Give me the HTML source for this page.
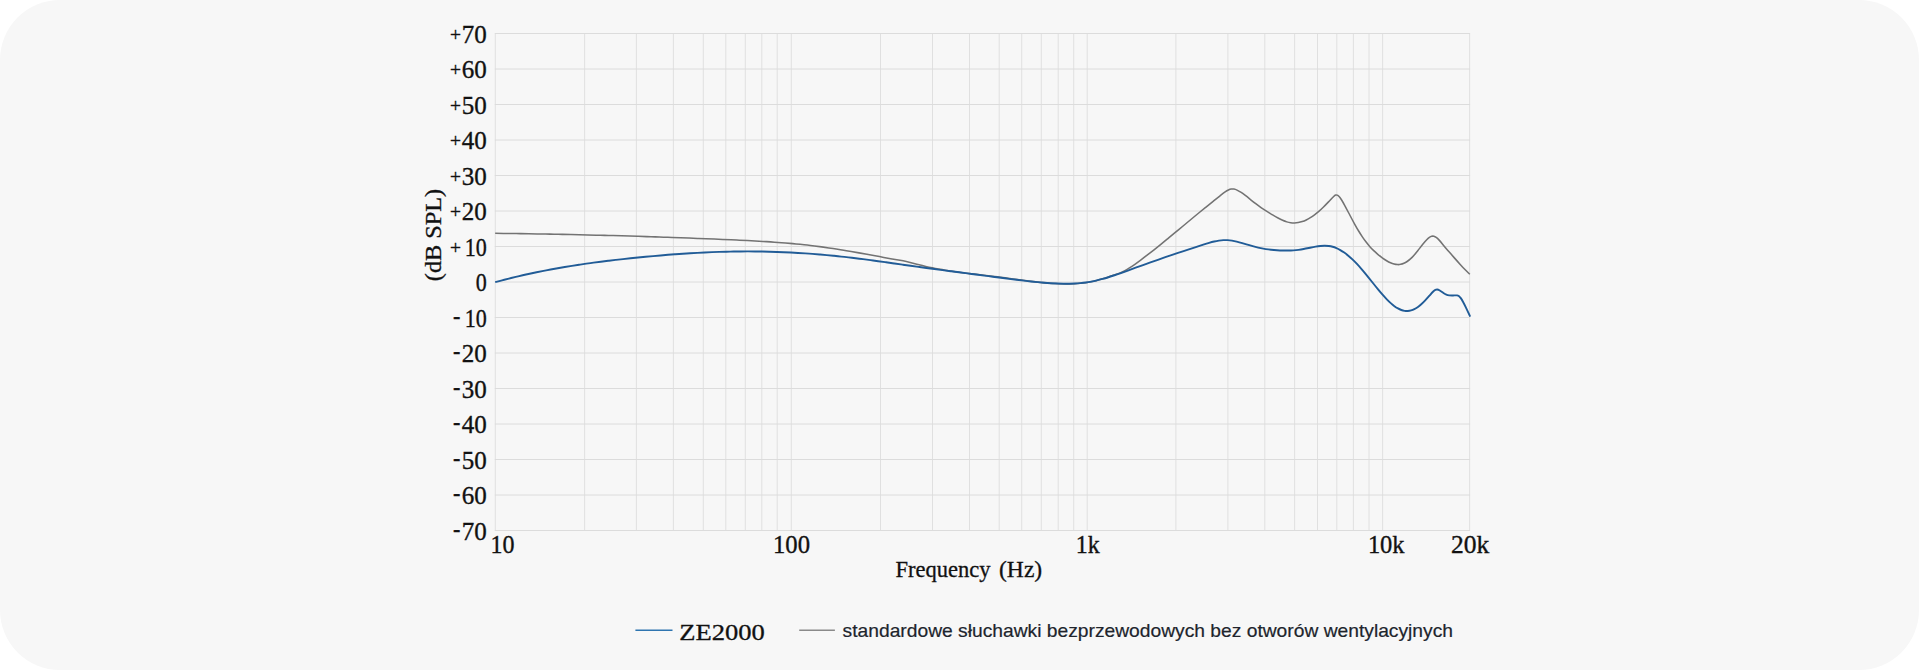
<!DOCTYPE html>
<html lang="pl"><head><meta charset="utf-8"><title>ZE2000</title>
<style>
html,body{margin:0;padding:0;background:#fff;}
body{width:1920px;height:670px;overflow:hidden;position:relative;}
.panel{position:absolute;left:0;top:0;width:1919px;height:670px;background:#f7f7f7;border-radius:60px;}
svg{position:absolute;left:0;top:0;display:block;}
</style></head><body>
<div class="panel"></div>
<svg width="1920" height="670" viewBox="0 0 1920 670">
<path d="M495.3 33.5V530.5M584.6 33.5V530.5M636.4 33.5V530.5M673.4 33.5V530.5M703.3 33.5V530.5M725.8 33.5V530.5M745.3 33.5V530.5M761.8 33.5V530.5M777.2 33.5V530.5M791.3 33.5V530.5M880.5 33.5V530.5M932.5 33.5V530.5M969.5 33.5V530.5M999.2 33.5V530.5M1021.7 33.5V530.5M1041.3 33.5V530.5M1058.2 33.5V530.5M1073.7 33.5V530.5M1087.2 33.5V530.5M1175.9 33.5V530.5M1227.9 33.5V530.5M1264.8 33.5V530.5M1294.6 33.5V530.5M1317.5 33.5V530.5M1336.8 33.5V530.5M1353.4 33.5V530.5M1369.0 33.5V530.5M1382.6 33.5V530.5M1469.6 33.5V530.5" stroke="#e0e0e0" stroke-width="1" fill="none"/>
<path d="M494.8 33.5H1470.1M494.8 69.0H1470.1M494.8 104.5H1470.1M494.8 140.0H1470.1M494.8 175.5H1470.1M494.8 211.0H1470.1M494.8 246.5H1470.1M494.8 282.0H1470.1M494.8 317.5H1470.1M494.8 353.0H1470.1M494.8 388.5H1470.1M494.8 424.0H1470.1M494.8 459.5H1470.1M494.8 495.0H1470.1M494.8 530.5H1470.1" stroke="#dcdcdc" stroke-width="1" fill="none"/>
<path d="M495.20 233.33C498.00 233.36 500.80 233.39 503.60 233.43C506.40 233.46 509.21 233.49 512.01 233.53C514.81 233.57 517.61 233.60 520.41 233.64C523.22 233.68 526.02 233.72 528.82 233.77C531.63 233.81 534.43 233.86 537.23 233.90C540.04 233.95 542.84 234.00 545.65 234.05C548.45 234.10 551.26 234.15 554.06 234.21C556.87 234.26 559.67 234.32 562.48 234.37C565.28 234.43 568.09 234.49 570.90 234.55C573.70 234.61 576.51 234.67 579.32 234.74C582.13 234.80 584.94 234.87 587.74 234.94C590.55 235.00 593.36 235.07 596.17 235.15C598.98 235.22 601.79 235.29 604.60 235.36C607.41 235.44 610.22 235.51 613.03 235.59C615.84 235.67 618.65 235.75 621.46 235.83C624.27 235.91 627.08 236.00 629.90 236.08C632.71 236.16 635.52 236.25 638.33 236.34C641.15 236.43 643.96 236.52 646.77 236.61C649.59 236.70 652.40 236.79 655.22 236.88C658.03 236.98 660.85 237.08 663.66 237.17C666.48 237.27 669.29 237.37 672.11 237.47C674.92 237.57 677.74 237.67 680.56 237.78C683.37 237.88 686.19 237.99 689.01 238.09C691.82 238.20 694.64 238.31 697.46 238.42C700.28 238.53 703.10 238.64 705.92 238.76C708.74 238.87 711.56 238.98 714.37 239.10C717.20 239.22 720.02 239.33 722.84 239.45C725.64 239.57 728.44 239.69 731.24 239.82C733.96 239.93 736.68 240.06 739.40 240.18C742.06 240.30 744.72 240.43 747.38 240.56C749.99 240.69 752.60 240.83 755.22 240.97C757.79 241.11 760.36 241.25 762.93 241.41C765.47 241.56 768.00 241.72 770.54 241.88C773.04 242.05 775.55 242.23 778.05 242.41C780.53 242.59 783.00 242.79 785.48 242.99C787.93 243.19 790.38 243.40 792.83 243.63C795.26 243.85 797.68 244.08 800.11 244.33C802.51 244.58 804.92 244.83 807.32 245.10C809.71 245.37 812.09 245.66 814.48 245.95C816.86 246.25 819.24 246.56 821.62 246.89C824.03 247.22 826.44 247.56 828.85 247.92C831.29 248.28 833.74 248.65 836.18 249.03C838.66 249.42 841.15 249.83 843.63 250.24C846.16 250.65 848.68 251.08 851.21 251.52C853.79 251.96 856.37 252.41 858.95 252.87C861.59 253.34 864.24 253.82 866.89 254.30C869.62 254.80 872.36 255.30 875.10 255.80C877.99 256.33 880.88 256.87 883.77 257.40C886.54 257.91 889.32 258.42 892.10 258.93C894.72 259.41 897.34 259.87 899.96 260.36C902.07 260.74 904.18 261.15 906.29 261.59C908.21 262.00 910.14 262.45 912.06 262.94C914.40 263.54 916.73 264.16 919.07 264.75C921.31 265.32 923.54 265.86 925.78 266.38C927.94 266.89 930.11 267.37 932.28 267.83C934.43 268.28 936.59 268.70 938.75 269.10C940.95 269.51 943.15 269.90 945.36 270.26C947.62 270.63 949.88 270.98 952.14 271.31C954.47 271.66 956.80 271.98 959.13 272.29C961.54 272.61 963.96 272.91 966.38 273.21C968.92 273.52 971.46 273.81 974.00 274.11C976.77 274.42 979.55 274.74 982.32 275.05C984.98 275.35 987.63 275.66 990.29 275.97C992.77 276.26 995.26 276.56 997.74 276.87C1000.20 277.17 1002.65 277.50 1005.11 277.83C1007.77 278.18 1010.43 278.55 1013.08 278.92C1015.81 279.30 1018.53 279.67 1021.26 280.04C1023.74 280.38 1026.22 280.71 1028.70 281.03C1031.06 281.33 1033.42 281.62 1035.78 281.89C1038.04 282.15 1040.31 282.39 1042.58 282.61C1044.78 282.82 1046.98 283.02 1049.18 283.19C1051.33 283.35 1053.47 283.49 1055.61 283.60C1057.71 283.70 1059.80 283.78 1061.90 283.83C1063.95 283.88 1066.00 283.90 1068.05 283.88C1070.04 283.86 1072.03 283.81 1074.02 283.72C1075.95 283.63 1077.87 283.51 1079.80 283.34C1081.67 283.17 1083.54 282.97 1085.41 282.71C1087.23 282.46 1089.06 282.17 1090.88 281.82C1092.66 281.48 1094.45 281.09 1096.23 280.64C1098.08 280.18 1099.93 279.66 1101.78 279.10C1103.80 278.49 1105.82 277.84 1107.84 277.16C1110.26 276.35 1112.67 275.50 1115.09 274.66C1116.96 274.00 1118.83 273.38 1120.70 272.62C1122.11 272.05 1123.51 271.39 1124.91 270.64C1126.43 269.83 1127.94 268.93 1129.45 267.97C1131.15 266.88 1132.85 265.72 1134.55 264.51C1136.59 263.06 1138.64 261.56 1140.68 260.04C1142.82 258.44 1144.97 256.82 1147.11 255.17C1149.31 253.48 1151.51 251.76 1153.72 250.02C1155.98 248.23 1158.25 246.42 1160.52 244.58C1162.87 242.68 1165.23 240.76 1167.58 238.83C1170.06 236.80 1172.53 234.76 1175.00 232.71C1177.69 230.47 1180.39 228.23 1183.08 225.99C1185.78 223.74 1188.47 221.49 1191.17 219.26C1193.69 217.17 1196.20 215.09 1198.71 213.02C1201.15 211.02 1203.58 209.03 1206.02 207.05C1208.39 205.12 1210.76 203.21 1213.13 201.31C1215.44 199.46 1217.76 197.62 1220.08 195.80C1221.76 194.48 1223.45 193.12 1225.13 191.94C1226.23 191.18 1227.33 190.49 1228.42 189.98C1229.36 189.53 1230.30 189.21 1231.24 189.06C1232.14 188.91 1233.03 188.94 1233.92 189.11C1234.96 189.30 1235.99 189.67 1237.02 190.14C1238.27 190.71 1239.51 191.41 1240.75 192.20C1242.17 193.09 1243.58 194.11 1245.00 195.19C1246.92 196.65 1248.84 198.23 1250.76 199.79C1252.54 201.24 1254.32 202.65 1256.10 203.98C1257.87 205.31 1259.63 206.58 1261.39 207.80C1263.22 209.06 1265.05 210.27 1266.88 211.43C1268.79 212.64 1270.70 213.81 1272.61 214.94C1274.43 216.02 1276.25 217.07 1278.07 218.05C1279.60 218.87 1281.14 219.64 1282.67 220.31C1284.05 220.92 1285.44 221.45 1286.82 221.87C1288.11 222.27 1289.40 222.57 1290.69 222.76C1291.95 222.95 1293.21 223.03 1294.47 223.00C1295.75 222.98 1297.04 222.84 1298.32 222.61C1299.63 222.38 1300.94 222.03 1302.24 221.60C1303.58 221.15 1304.91 220.60 1306.25 219.96C1307.61 219.30 1308.97 218.55 1310.34 217.70C1311.73 216.84 1313.13 215.88 1314.52 214.83C1315.96 213.76 1317.39 212.60 1318.82 211.35C1320.30 210.06 1321.79 208.68 1323.27 207.22C1325.01 205.51 1326.75 203.71 1328.50 201.88C1330.23 200.06 1331.96 198.10 1333.69 196.46C1334.34 195.85 1334.99 195.34 1335.64 195.10C1336.18 194.90 1336.72 194.90 1337.27 195.12C1337.87 195.36 1338.47 195.84 1339.08 196.49C1339.82 197.29 1340.56 198.34 1341.30 199.51C1342.37 201.20 1343.45 203.10 1344.52 205.07C1346.36 208.45 1348.20 212.00 1350.04 215.49C1351.61 218.49 1353.19 221.45 1354.76 224.30C1356.05 226.62 1357.34 228.87 1358.63 231.00C1359.87 233.05 1361.12 234.99 1362.36 236.82C1363.61 238.67 1364.86 240.40 1366.11 242.04C1367.37 243.68 1368.63 245.21 1369.89 246.64C1371.17 248.09 1372.45 249.43 1373.73 250.67C1375.09 252.00 1376.45 253.21 1377.81 254.34C1379.30 255.58 1380.78 256.72 1382.27 257.79C1383.73 258.84 1385.18 259.84 1386.63 260.72C1387.93 261.50 1389.22 262.21 1390.52 262.79C1391.71 263.33 1392.91 263.77 1394.10 264.08C1395.22 264.37 1396.35 264.56 1397.47 264.60C1398.54 264.65 1399.61 264.57 1400.68 264.36C1401.75 264.15 1402.83 263.81 1403.90 263.33C1404.98 262.86 1406.07 262.25 1407.15 261.51C1408.25 260.77 1409.35 259.90 1410.45 258.90C1411.58 257.88 1412.70 256.72 1413.83 255.45C1415.20 253.90 1416.57 252.20 1417.95 250.46C1419.69 248.24 1421.44 245.95 1423.19 243.81C1424.37 242.36 1425.55 240.97 1426.73 239.75C1427.62 238.82 1428.52 238.01 1429.41 237.39C1430.18 236.86 1430.94 236.47 1431.71 236.28C1432.43 236.10 1433.14 236.10 1433.86 236.29C1434.64 236.49 1435.42 236.89 1436.20 237.44C1437.11 238.08 1438.01 238.91 1438.91 239.86C1440.20 241.22 1441.49 242.82 1442.78 244.42C1444.32 246.33 1445.86 248.17 1447.40 249.92C1449.72 252.57 1452.04 255.22 1454.36 257.87C1456.31 260.09 1458.26 262.31 1460.21 264.45C1461.88 266.30 1463.55 268.09 1465.22 269.81C1466.75 271.37 1468.27 272.88 1469.80 274.29" stroke="#737373" stroke-width="1.55" fill="none" stroke-linejoin="round"/>
<path d="M495.20 282.18C497.48 281.55 499.75 280.93 502.03 280.33C504.31 279.73 506.60 279.14 508.88 278.57C511.17 277.99 513.47 277.42 515.76 276.87C518.06 276.32 520.37 275.78 522.67 275.26C524.98 274.73 527.29 274.22 529.61 273.71C531.93 273.21 534.25 272.72 536.57 272.24C538.91 271.76 541.24 271.29 543.57 270.84C545.91 270.38 548.26 269.93 550.60 269.50C552.96 269.06 555.31 268.63 557.66 268.22C560.03 267.80 562.40 267.39 564.76 267.00C567.14 266.60 569.52 266.22 571.90 265.84C574.29 265.46 576.68 265.09 579.07 264.73C581.47 264.37 583.87 264.02 586.28 263.68C588.70 263.34 591.11 263.00 593.53 262.68C595.96 262.35 598.39 262.03 600.82 261.72C603.27 261.41 605.72 261.10 608.17 260.81C610.63 260.51 613.09 260.22 615.56 259.93C618.04 259.65 620.52 259.37 623.00 259.10C625.49 258.82 627.99 258.56 630.49 258.29C633.01 258.03 635.53 257.77 638.05 257.52C640.56 257.27 643.07 257.02 645.59 256.78C648.09 256.55 650.59 256.31 653.10 256.09C655.59 255.86 658.08 255.64 660.57 255.43C663.05 255.22 665.53 255.02 668.01 254.82C670.47 254.62 672.94 254.43 675.41 254.25C677.87 254.07 680.33 253.90 682.79 253.73C685.24 253.57 687.68 253.41 690.13 253.26C692.57 253.11 695.01 252.97 697.45 252.84C699.88 252.71 702.31 252.58 704.74 252.47C707.16 252.35 709.58 252.25 712.00 252.15C714.41 252.05 716.82 251.97 719.23 251.89C721.64 251.81 724.04 251.74 726.44 251.68C728.84 251.62 731.23 251.57 733.63 251.54C736.01 251.50 738.40 251.47 740.79 251.45C743.17 251.43 745.55 251.42 747.93 251.42C750.31 251.42 752.69 251.43 755.07 251.46C757.45 251.48 759.83 251.51 762.21 251.55C764.60 251.59 766.98 251.65 769.36 251.71C771.75 251.77 774.14 251.85 776.52 251.93C778.91 252.01 781.30 252.11 783.68 252.21C786.07 252.31 788.46 252.42 790.85 252.55C793.24 252.67 795.63 252.80 798.03 252.95C800.42 253.09 802.81 253.24 805.21 253.41C807.60 253.57 810.00 253.74 812.39 253.92C814.79 254.10 817.19 254.30 819.59 254.50C821.99 254.70 824.39 254.91 826.78 255.13C829.19 255.35 831.59 255.58 833.99 255.82C836.39 256.06 838.80 256.31 841.20 256.57C843.61 256.83 846.01 257.10 848.42 257.38C850.84 257.66 853.25 257.95 855.67 258.24C858.12 258.55 860.58 258.86 863.03 259.17C865.53 259.50 868.02 259.83 870.52 260.16C873.07 260.51 875.62 260.85 878.17 261.21C880.78 261.57 883.40 261.94 886.02 262.30C888.73 262.69 891.45 263.07 894.17 263.46C896.97 263.86 899.77 264.26 902.57 264.65C905.23 265.03 907.89 265.41 910.55 265.78C913.18 266.15 915.81 266.51 918.44 266.87C921.09 267.24 923.74 267.60 926.40 267.96C929.07 268.32 931.74 268.68 934.41 269.04C937.11 269.40 939.81 269.76 942.51 270.12C945.23 270.48 947.96 270.84 950.69 271.20C953.45 271.56 956.21 271.92 958.97 272.28C961.78 272.65 964.59 273.02 967.40 273.38C970.27 273.76 973.15 274.13 976.02 274.51C978.83 274.87 981.64 275.24 984.45 275.61C987.21 275.97 989.97 276.33 992.73 276.69C995.47 277.05 998.21 277.41 1000.95 277.78C1003.64 278.13 1006.32 278.49 1009.01 278.84C1011.51 279.17 1014.01 279.49 1016.51 279.80C1018.92 280.11 1021.32 280.40 1023.72 280.68C1026.05 280.96 1028.37 281.22 1030.70 281.47C1032.97 281.72 1035.24 281.95 1037.51 282.16C1039.73 282.37 1041.95 282.56 1044.17 282.74C1046.35 282.91 1048.53 283.06 1050.71 283.20C1052.85 283.33 1054.99 283.44 1057.13 283.53C1059.20 283.62 1061.27 283.68 1063.34 283.72C1065.32 283.75 1067.29 283.76 1069.27 283.73C1071.16 283.71 1073.06 283.65 1074.96 283.55C1076.80 283.46 1078.64 283.33 1080.48 283.15C1082.26 282.98 1084.05 282.77 1085.84 282.51C1087.64 282.25 1089.44 281.94 1091.24 281.60C1093.09 281.24 1094.93 280.84 1096.78 280.41C1098.68 279.96 1100.57 279.47 1102.47 278.95C1104.44 278.41 1106.40 277.84 1108.36 277.24C1110.40 276.61 1112.44 275.95 1114.49 275.27C1116.63 274.56 1118.78 273.81 1120.93 273.06C1123.24 272.24 1125.55 271.41 1127.86 270.57C1130.46 269.62 1133.06 268.66 1135.66 267.71C1138.12 266.81 1140.57 265.92 1143.02 265.04C1145.49 264.15 1147.95 263.27 1150.41 262.40C1152.89 261.53 1155.36 260.66 1157.84 259.80C1160.34 258.93 1162.83 258.07 1165.32 257.21C1167.83 256.35 1170.34 255.50 1172.85 254.65C1175.38 253.79 1177.91 252.95 1180.44 252.10C1182.99 251.25 1185.54 250.41 1188.09 249.56C1190.66 248.72 1193.23 247.87 1195.81 247.03C1198.30 246.22 1200.79 245.41 1203.28 244.61C1205.22 243.99 1207.16 243.38 1209.10 242.83C1210.80 242.34 1212.50 241.89 1214.21 241.51C1215.78 241.15 1217.35 240.85 1218.92 240.61C1220.40 240.40 1221.88 240.24 1223.36 240.17C1224.77 240.09 1226.18 240.09 1227.59 240.17C1229.05 240.26 1230.50 240.43 1231.95 240.66C1233.54 240.92 1235.13 241.25 1236.72 241.63C1238.56 242.07 1240.39 242.57 1242.23 243.10C1244.58 243.77 1246.94 244.47 1249.29 245.16C1251.32 245.75 1253.34 246.33 1255.37 246.86C1257.16 247.33 1258.94 247.77 1260.73 248.16C1262.41 248.52 1264.08 248.83 1265.76 249.08C1267.54 249.35 1269.32 249.56 1271.10 249.74C1273.06 249.94 1275.02 250.10 1276.98 250.23C1278.89 250.36 1280.79 250.46 1282.69 250.51C1284.51 250.57 1286.33 250.59 1288.15 250.56C1289.91 250.53 1291.67 250.46 1293.42 250.34C1295.12 250.22 1296.83 250.06 1298.53 249.84C1300.23 249.62 1301.92 249.35 1303.62 249.02C1305.75 248.62 1307.89 248.15 1310.02 247.70C1311.91 247.30 1313.80 246.91 1315.68 246.59C1317.27 246.31 1318.86 246.09 1320.45 245.93C1321.89 245.80 1323.33 245.72 1324.77 245.73C1326.12 245.74 1327.46 245.83 1328.81 246.00C1330.08 246.17 1331.36 246.43 1332.63 246.78C1333.89 247.13 1335.15 247.58 1336.42 248.12C1337.70 248.67 1338.99 249.32 1340.28 250.05C1341.59 250.80 1342.91 251.64 1344.23 252.57C1345.58 253.52 1346.92 254.55 1348.27 255.67C1349.66 256.82 1351.04 258.06 1352.43 259.37C1353.85 260.72 1355.28 262.15 1356.70 263.65C1358.18 265.21 1359.65 266.84 1361.13 268.54C1362.74 270.40 1364.35 272.33 1365.96 274.31C1368.02 276.84 1370.08 279.43 1372.14 282.02C1374.05 284.42 1375.95 286.81 1377.86 289.13C1379.42 291.04 1380.99 292.91 1382.56 294.70C1383.98 296.31 1385.40 297.86 1386.81 299.32C1388.13 300.67 1389.44 301.95 1390.75 303.13C1391.98 304.23 1393.21 305.24 1394.44 306.15C1395.61 307.02 1396.78 307.78 1397.95 308.44C1399.06 309.06 1400.18 309.59 1401.30 309.99C1402.39 310.38 1403.47 310.67 1404.56 310.83C1405.64 310.99 1406.72 311.04 1407.81 310.97C1408.89 310.90 1409.98 310.72 1411.06 310.42C1412.15 310.12 1413.24 309.71 1414.33 309.18C1415.42 308.65 1416.51 308.01 1417.60 307.25C1418.72 306.47 1419.84 305.56 1420.97 304.55C1422.23 303.43 1423.48 302.18 1424.74 300.87C1426.31 299.22 1427.88 297.47 1429.44 295.69C1430.71 294.25 1431.98 292.73 1433.24 291.53C1433.96 290.84 1434.68 290.27 1435.39 289.91C1436.01 289.61 1436.62 289.45 1437.24 289.51C1437.96 289.57 1438.68 289.88 1439.40 290.30C1440.74 291.07 1442.08 292.11 1443.42 293.01C1444.39 293.66 1445.36 294.25 1446.33 294.64C1447.29 295.04 1448.26 295.24 1449.22 295.36C1450.49 295.52 1451.76 295.54 1453.04 295.50C1454.37 295.46 1455.70 295.24 1457.04 295.35C1457.62 295.41 1458.20 295.58 1458.78 296.00C1459.38 296.43 1459.99 297.09 1460.59 297.90C1461.34 298.90 1462.09 300.13 1462.84 301.47C1463.80 303.19 1464.76 305.11 1465.72 307.10C1467.22 310.20 1468.71 313.50 1470.20 316.70" stroke="#215c97" stroke-width="1.9" fill="none" stroke-linejoin="round"/>
<g font-family="'Liberation Serif', serif" font-size="24.7" fill="#111" stroke="#111" stroke-width="0.35">
<text><tspan x="449.9" y="40.9" font-size="19.5" text-anchor="start">+</tspan><tspan x="486.8" y="42.5" text-anchor="end" textLength="25.0" lengthAdjust="spacingAndGlyphs">70</tspan></text>
<text><tspan x="449.9" y="76.4" font-size="19.5" text-anchor="start">+</tspan><tspan x="486.8" y="78.0" text-anchor="end" textLength="25.0" lengthAdjust="spacingAndGlyphs">60</tspan></text>
<text><tspan x="449.9" y="111.9" font-size="19.5" text-anchor="start">+</tspan><tspan x="486.8" y="113.5" text-anchor="end" textLength="25.0" lengthAdjust="spacingAndGlyphs">50</tspan></text>
<text><tspan x="449.9" y="147.4" font-size="19.5" text-anchor="start">+</tspan><tspan x="486.8" y="149.0" text-anchor="end" textLength="25.0" lengthAdjust="spacingAndGlyphs">40</tspan></text>
<text><tspan x="449.9" y="182.9" font-size="19.5" text-anchor="start">+</tspan><tspan x="486.8" y="184.5" text-anchor="end" textLength="25.0" lengthAdjust="spacingAndGlyphs">30</tspan></text>
<text><tspan x="449.9" y="218.4" font-size="19.5" text-anchor="start">+</tspan><tspan x="486.8" y="220.0" text-anchor="end" textLength="25.0" lengthAdjust="spacingAndGlyphs">20</tspan></text>
<text><tspan x="449.9" y="253.9" font-size="19.5" text-anchor="start">+</tspan><tspan x="486.8" y="255.5" text-anchor="end" textLength="22.0" lengthAdjust="spacingAndGlyphs">10</tspan></text>
<text><tspan x="486.8" y="291.0" text-anchor="end" textLength="11.0" lengthAdjust="spacingAndGlyphs">0</tspan></text>
<text><tspan x="452.9" y="323.7" text-anchor="start" textLength="7.4" lengthAdjust="spacingAndGlyphs">-</tspan><tspan x="486.8" y="326.5" text-anchor="end" textLength="22.0" lengthAdjust="spacingAndGlyphs">10</tspan></text>
<text><tspan x="452.9" y="359.2" text-anchor="start" textLength="7.4" lengthAdjust="spacingAndGlyphs">-</tspan><tspan x="486.8" y="362.0" text-anchor="end" textLength="25.0" lengthAdjust="spacingAndGlyphs">20</tspan></text>
<text><tspan x="452.9" y="394.7" text-anchor="start" textLength="7.4" lengthAdjust="spacingAndGlyphs">-</tspan><tspan x="486.8" y="397.5" text-anchor="end" textLength="25.0" lengthAdjust="spacingAndGlyphs">30</tspan></text>
<text><tspan x="452.9" y="430.2" text-anchor="start" textLength="7.4" lengthAdjust="spacingAndGlyphs">-</tspan><tspan x="486.8" y="433.0" text-anchor="end" textLength="25.0" lengthAdjust="spacingAndGlyphs">40</tspan></text>
<text><tspan x="452.9" y="465.7" text-anchor="start" textLength="7.4" lengthAdjust="spacingAndGlyphs">-</tspan><tspan x="486.8" y="468.5" text-anchor="end" textLength="25.0" lengthAdjust="spacingAndGlyphs">50</tspan></text>
<text><tspan x="452.9" y="501.2" text-anchor="start" textLength="7.4" lengthAdjust="spacingAndGlyphs">-</tspan><tspan x="486.8" y="504.0" text-anchor="end" textLength="25.0" lengthAdjust="spacingAndGlyphs">60</tspan></text>
<text><tspan x="452.9" y="536.7" text-anchor="start" textLength="7.4" lengthAdjust="spacingAndGlyphs">-</tspan><tspan x="486.8" y="539.5" text-anchor="end" textLength="25.0" lengthAdjust="spacingAndGlyphs">70</tspan></text>
<text x="490.6" y="552.8" textLength="24.0" lengthAdjust="spacingAndGlyphs">10</text>
<text x="773.0" y="552.8" textLength="37.0" lengthAdjust="spacingAndGlyphs">100</text>
<text x="1075.8" y="552.8" textLength="24.0" lengthAdjust="spacingAndGlyphs">1k</text>
<text x="1367.9" y="552.8" textLength="36.7" lengthAdjust="spacingAndGlyphs">10k</text>
<text x="1450.9" y="552.8" textLength="38.3" lengthAdjust="spacingAndGlyphs">20k</text>
</g>
<g font-family="'Liberation Serif', serif" font-size="23" fill="#111" stroke="#111" stroke-width="0.3">
<text><tspan x="895.4" y="576.6" textLength="95" lengthAdjust="spacingAndGlyphs">Frequency</tspan> <tspan x="999" y="576.6" textLength="43.2" lengthAdjust="spacingAndGlyphs">(Hz)</tspan></text>
<text transform="translate(441.3 281.2) rotate(-90)" textLength="92.3" lengthAdjust="spacingAndGlyphs">(dB SPL)</text>
</g>
<path d="M635.4 630.3H672.5" stroke="#2e75b0" stroke-width="1.4"/>
<path d="M799.2 630.3H834.9" stroke="#8a8a8a" stroke-width="1.4"/>
<text x="679.2" y="639.6" font-family="'Liberation Serif', serif" font-size="23.6" fill="#111" stroke="#111" stroke-width="0.3" textLength="85.6" lengthAdjust="spacingAndGlyphs">ZE2000</text>
<text x="842.6" y="636.7" font-family="'Liberation Sans', sans-serif" font-size="19" fill="#20242c" stroke="#20242c" stroke-width="0.2" textLength="610.4" lengthAdjust="spacingAndGlyphs">standardowe słuchawki bezprzewodowych bez otworów wentylacyjnych</text>
</svg>
</body></html>
